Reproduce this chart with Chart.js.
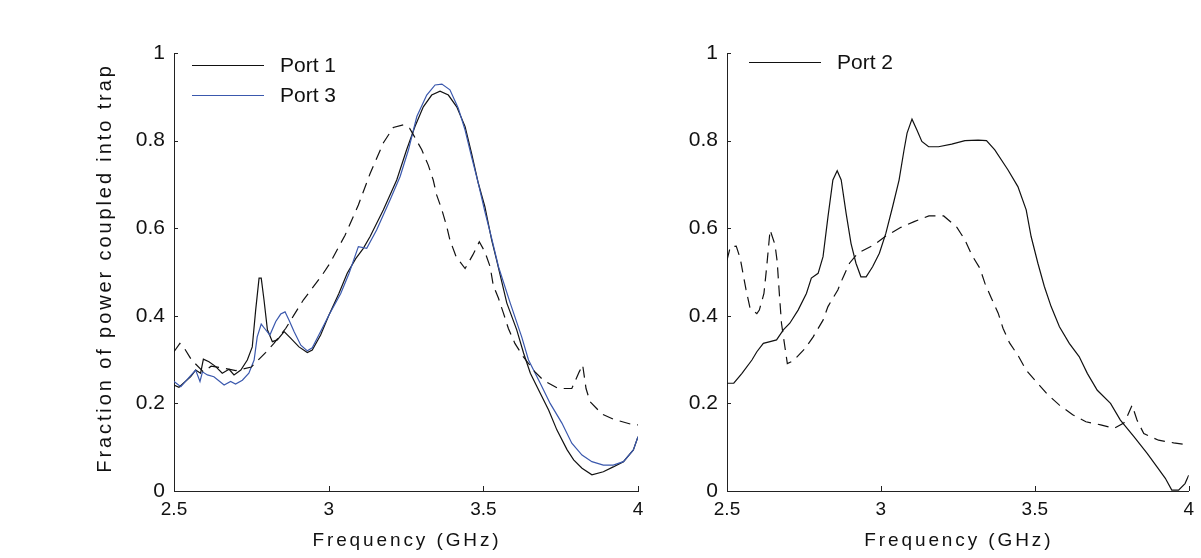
<!DOCTYPE html>
<html>
<head>
<meta charset="utf-8">
<script src="https://cdn.jsdelivr.net/npm/chart.js@4.4.0/dist/chart.umd.min.js"></script>
<style>
  html, body { margin: 0; padding: 0; background: #fff; }
  #wrap { position: relative; width: 1201px; height: 558px; }
  #leftBox { position: absolute; left: 0; top: 0; width: 660px; height: 558px; }
  #rightBox { position: absolute; left: 660px; top: 0; width: 541px; height: 558px; }
</style>
</head>
<body>
<div id="wrap">
  <div id="leftBox"><canvas id="leftChart"></canvas></div>
  <div id="rightBox"><canvas id="rightChart"></canvas></div>
</div>
<script>
// tick values
const xTicks = [2.5, 3, 3.5, 4];
const yTicks = [0, 0.2, 0.4, 0.6, 0.8, 1];

// left panel - Port 1 (black)
const port1Freq = [2.5, 2.516, 2.554, 2.570, 2.586, 2.595, 2.613, 2.635, 2.656, 2.678, 2.694, 2.716, 2.737, 2.753, 2.764, 2.775, 2.782, 2.791, 2.802, 2.818,
  2.834, 2.856, 2.877, 2.904, 2.931, 2.947, 2.974, 3.001, 3.033, 3.060, 3.087, 3.112, 3.134, 3.177, 3.220, 3.252, 3.279, 3.306, 3.333, 3.360,
  3.387, 3.414, 3.441, 3.462, 3.484, 3.505, 3.527, 3.543, 3.576, 3.608, 3.630, 3.652, 3.684, 3.711, 3.738, 3.771, 3.792, 3.819, 3.851, 3.888,
  3.920, 3.953, 3.985, 4.0];
const port1Vals = [0.242, 0.237, 0.261, 0.276, 0.269, 0.301, 0.295, 0.284, 0.269, 0.278, 0.265, 0.276, 0.299, 0.329, 0.413, 0.486, 0.486, 0.436, 0.368, 0.341,
  0.345, 0.364, 0.349, 0.329, 0.316, 0.322, 0.356, 0.402, 0.451, 0.497, 0.530, 0.554, 0.581, 0.642, 0.710, 0.779, 0.832, 0.877, 0.904, 0.913,
  0.904, 0.877, 0.832, 0.771, 0.702, 0.649, 0.573, 0.527, 0.429, 0.368, 0.315, 0.269, 0.223, 0.185, 0.139, 0.094, 0.071, 0.052, 0.037, 0.044,
  0.055, 0.067, 0.094, 0.124];

// left panel - Port 3 (blue)
const port3Freq = [2.5, 2.522, 2.548, 2.570, 2.584, 2.592, 2.608, 2.629, 2.662, 2.683, 2.699, 2.721, 2.742, 2.759, 2.769, 2.782, 2.793, 2.810, 2.829, 2.845,
  2.859, 2.872, 2.888, 2.910, 2.931, 2.947, 2.974, 3.001, 3.039, 3.066, 3.096, 3.123, 3.155, 3.198, 3.231, 3.258, 3.285, 3.317, 3.344, 3.366,
  3.392, 3.419, 3.441, 3.462, 3.484, 3.505, 3.527, 3.549, 3.587, 3.624, 3.646, 3.684, 3.716, 3.754, 3.786, 3.819, 3.851, 3.888, 3.920, 3.953,
  3.985, 4.0];
const port3Vals = [0.250, 0.238, 0.259, 0.276, 0.250, 0.272, 0.265, 0.261, 0.242, 0.250, 0.244, 0.253, 0.269, 0.299, 0.352, 0.381, 0.371, 0.356, 0.387, 0.404,
  0.409, 0.390, 0.364, 0.333, 0.320, 0.327, 0.364, 0.402, 0.451, 0.497, 0.558, 0.554, 0.596, 0.664, 0.718, 0.779, 0.855, 0.904, 0.927, 0.929,
  0.916, 0.874, 0.824, 0.763, 0.702, 0.638, 0.577, 0.512, 0.429, 0.352, 0.299, 0.246, 0.200, 0.155, 0.109, 0.082, 0.067, 0.059, 0.059, 0.067,
  0.094, 0.124];

// left panel - dashed reference
const dashLFreq = [2.5, 2.519, 2.53, 2.557, 2.595, 2.62, 2.65, 2.7, 2.75, 2.796, 2.823, 2.861, 2.888, 2.918, 2.947, 2.979, 3.004, 3.053, 3.096, 3.134,
  3.177, 3.209, 3.241, 3.262, 3.274, 3.301, 3.322, 3.338, 3.349, 3.366, 3.382, 3.392, 3.412, 3.441, 3.466, 3.487, 3.505, 3.522, 3.532, 3.549,
  3.565, 3.581, 3.602, 3.629, 3.667, 3.694, 3.742, 3.786, 3.81, 3.821, 3.832, 3.845, 3.883, 3.92, 3.98, 4.0];
const dashLVals = [0.318, 0.337, 0.330, 0.299, 0.272, 0.285, 0.282, 0.275, 0.283, 0.316, 0.337, 0.371, 0.402, 0.436, 0.463, 0.493, 0.520, 0.584, 0.653, 0.725,
  0.795, 0.830, 0.836, 0.828, 0.813, 0.779, 0.744, 0.710, 0.676, 0.642, 0.603, 0.573, 0.535, 0.508, 0.539, 0.569, 0.546, 0.512, 0.470, 0.440,
  0.406, 0.371, 0.337, 0.307, 0.272, 0.253, 0.234, 0.234, 0.272, 0.288, 0.234, 0.204, 0.176, 0.164, 0.152, 0.151];

// right panel - Port 2
const port2Freq = [2.5, 2.522, 2.548, 2.581, 2.597, 2.618, 2.640, 2.661, 2.683, 2.704, 2.731, 2.758, 2.774, 2.796, 2.812, 2.828, 2.844, 2.858, 2.871, 2.887,
  2.903, 2.919, 2.935, 2.952, 2.973, 2.995, 3.016, 3.038, 3.059, 3.075, 3.085, 3.101, 3.117, 3.133, 3.155, 3.187, 3.230, 3.273, 3.316, 3.343,
  3.370, 3.413, 3.445, 3.472, 3.488, 3.510, 3.531, 3.553, 3.580, 3.612, 3.644, 3.671, 3.703, 3.746, 3.778, 3.822, 3.865, 3.897, 3.924, 3.945,
  3.967, 3.988, 4.0];
const port2Vals = [0.246, 0.246, 0.268, 0.299, 0.318, 0.337, 0.341, 0.345, 0.368, 0.383, 0.413, 0.451, 0.486, 0.497, 0.535, 0.626, 0.710, 0.731, 0.710, 0.634,
  0.565, 0.520, 0.489, 0.489, 0.512, 0.543, 0.588, 0.649, 0.710, 0.778, 0.817, 0.849, 0.824, 0.798, 0.786, 0.786, 0.792, 0.800, 0.801, 0.800,
  0.779, 0.733, 0.695, 0.642, 0.581, 0.520, 0.467, 0.421, 0.375, 0.337, 0.307, 0.268, 0.230, 0.200, 0.162, 0.124, 0.086, 0.055, 0.029, 0.002,
  0.002, 0.017, 0.036];

// right panel - dashed reference
const dashRFreq = [2.5, 2.511, 2.530, 2.543, 2.554, 2.562, 2.575, 2.597, 2.605, 2.620, 2.629, 2.635, 2.640, 2.656, 2.663, 2.670, 2.677, 2.685, 2.696, 2.715,
  2.753, 2.780, 2.812, 2.828, 2.860, 2.876, 2.898, 2.925, 2.978, 3.016, 3.065, 3.108, 3.156, 3.204, 3.247, 3.273, 3.295, 3.322, 3.338, 3.359,
  3.381, 3.397, 3.418, 3.445, 3.472, 3.504, 3.542, 3.580, 3.623, 3.666, 3.714, 3.757, 3.789, 3.800, 3.816, 3.832, 3.854, 3.902, 3.951, 4.0];
const dashRVals = [0.527, 0.558, 0.559, 0.531, 0.489, 0.459, 0.417, 0.405, 0.413, 0.451, 0.512, 0.558, 0.596, 0.562, 0.524, 0.451, 0.383, 0.344, 0.291, 0.297,
  0.325, 0.352, 0.390, 0.421, 0.459, 0.486, 0.520, 0.543, 0.562, 0.582, 0.602, 0.615, 0.628, 0.628, 0.602, 0.573, 0.539, 0.508, 0.474, 0.440,
  0.406, 0.371, 0.338, 0.310, 0.276, 0.250, 0.220, 0.196, 0.174, 0.158, 0.151, 0.143, 0.155, 0.170, 0.196, 0.162, 0.131, 0.116, 0.110, 0.105];

const BLUE = '#3a58ad';
const FONT = '"Liberation Sans", Arial, sans-serif';

function pts(freq, vals) {
  return freq.map((f, i) => ({ x: f, y: vals[i] }));
}

function line(freq, vals, color, dashed) {
  return {
    data: pts(freq, vals),
    borderColor: color,
    borderWidth: 1.2,
    borderDash: dashed ? [11, 7] : [],
    pointRadius: 0,
    tension: 0,
    fill: false
  };
}

// inward tick marks, like the matlab axes
const inTicks = {
  id: 'inTicks',
  afterDraw(chart) {
    const ctx = chart.ctx, a = chart.chartArea;
    const xs = chart.scales.x, ys = chart.scales.y;
    ctx.save();
    ctx.strokeStyle = '#222';
    ctx.lineWidth = 1;
    ctx.beginPath();
    xs.ticks.forEach(t => {
      const px = Math.round(xs.getPixelForValue(t.value)) + 0.5;
      ctx.moveTo(px, a.bottom);
      ctx.lineTo(px, a.bottom - 5);
    });
    ys.ticks.forEach(t => {
      const py = Math.round(ys.getPixelForValue(t.value)) + 0.5;
      ctx.moveTo(a.left, py);
      ctx.lineTo(a.left + 4, py);
    });
    ctx.stroke();
    ctx.restore();
  }
};

// legend drawn inside the plot area
const innerLegend = {
  id: 'innerLegend',
  afterDraw(chart, args, opts) {
    const ctx = chart.ctx, a = chart.chartArea;
    ctx.save();
    ctx.font = '21px ' + FONT;
    ctx.textBaseline = 'middle';
    ctx.textAlign = 'left';
    opts.items.forEach((it, i) => {
      const y = Math.round(a.top + opts.top + i * 30) + 0.5;
      const x0 = a.left + opts.left;
      ctx.strokeStyle = it.color;
      ctx.lineWidth = 1.2;
      ctx.beginPath();
      ctx.moveTo(x0, y);
      ctx.lineTo(x0 + 72, y);
      ctx.stroke();
      ctx.fillStyle = '#111';
      ctx.fillText(it.text, x0 + 88, y + 1);
    });
    ctx.restore();
  }
};

// spaced axis titles
const axisTitles = {
  id: 'axisTitles',
  afterDraw(chart, args, opts) {
    const ctx = chart.ctx, a = chart.chartArea;
    ctx.save();
    ctx.fillStyle = '#111';
    ctx.textAlign = 'center';
    ctx.textBaseline = 'middle';
    ctx.font = '19px ' + FONT;
    ctx.letterSpacing = '2.9px';
    ctx.fillText(opts.x, (a.left + a.right) / 2 + 1, 541);
    if (opts.y) {
      ctx.translate(105, (a.top + a.bottom) / 2 - 4);
      ctx.rotate(-Math.PI / 2);
      ctx.font = '20px ' + FONT;
      ctx.letterSpacing = '2.9px';
      ctx.fillText(opts.y, 0, 0);
    }
    ctx.restore();
  }
};

function makeOptions(yWidth, padRight, legendItems, legendLeft, legendTop, yTitle) {
  return {
    responsive: true,
    maintainAspectRatio: false,
    animation: false,
    layout: { padding: { top: 53, right: padRight, left: 0, bottom: 0 } },
    plugins: {
      legend: { display: false },
      tooltip: { enabled: false },
      innerLegend: { items: legendItems, left: legendLeft, top: legendTop },
      axisTitles: { x: 'Frequency (GHz)', y: yTitle }
    },
    scales: {
      x: {
        type: 'linear',
        min: 2.5,
        max: 4,
        afterBuildTicks: s => { s.ticks = xTicks.map(v => ({ value: v })); },
        afterFit: s => { s.height = 67; },
        grid: { display: false, drawTicks: false },
        border: { display: true, color: '#222', width: 1 },
        ticks: { color: '#111', font: { family: FONT, size: 19 }, padding: 7, maxRotation: 0, callback: v => String(v) }
      },
      y: {
        type: 'linear',
        min: 0,
        max: 1,
        afterBuildTicks: s => { s.ticks = yTicks.map(v => ({ value: v })); },
        afterFit: s => { s.width = yWidth; },
        grid: { display: false, drawTicks: false },
        border: { display: true, color: '#222', width: 1 },
        ticks: { color: '#111', font: { family: FONT, size: 21 }, padding: 9, callback: v => String(v) }
      }
    }
  };
}

new Chart(document.getElementById('leftChart'), {
  type: 'line',
  data: {
    datasets: [
      line(dashLFreq, dashLVals, '#111', true),
      line(port3Freq, port3Vals, BLUE, false),
      line(port1Freq, port1Vals, '#111', false)
    ]
  },
  options: makeOptions(174, 22,
    [{ text: 'Port 1', color: '#111' }, { text: 'Port 3', color: BLUE }], 18, 12,
    'Fraction of power coupled into trap'),
  plugins: [inTicks, innerLegend, axisTitles]
});

new Chart(document.getElementById('rightChart'), {
  type: 'line',
  data: {
    datasets: [
      line(dashRFreq, dashRVals, '#111', true),
      line(port2Freq, port2Vals, '#111', false)
    ]
  },
  options: makeOptions(67, 9, [{ text: 'Port 2', color: '#111' }], 22, 9, null),
  plugins: [inTicks, innerLegend, axisTitles]
});
</script>
</body>
</html>
